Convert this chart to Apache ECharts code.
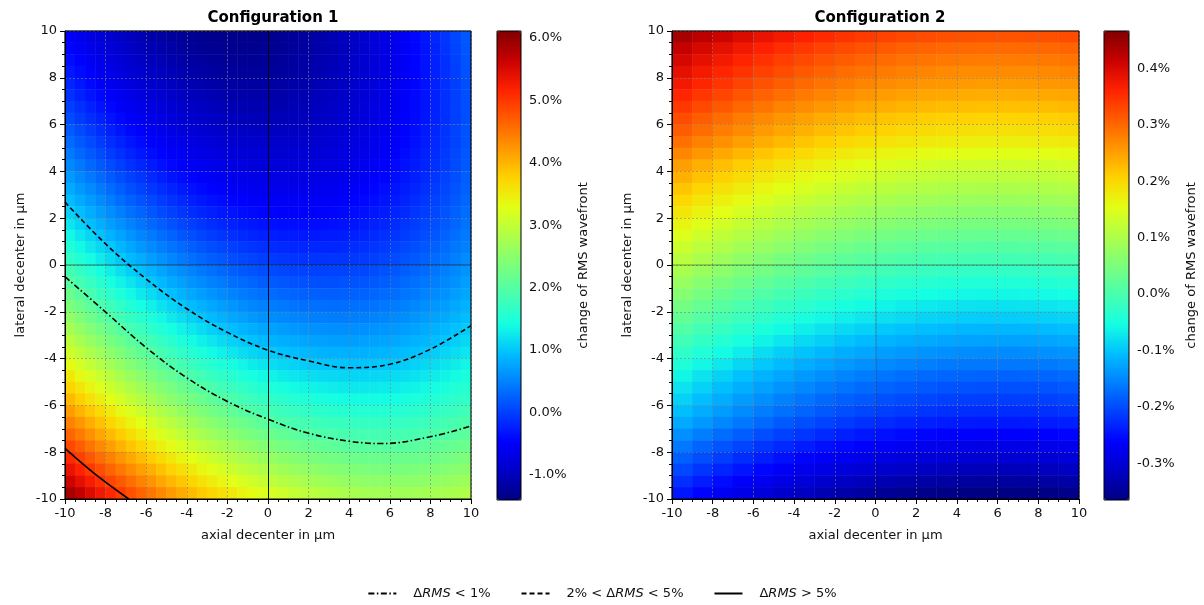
<!DOCTYPE html>
<html>
<head>
<meta charset="utf-8">
<title>RMS wavefront change</title>
<script src="https://cdn.jsdelivr.net/npm/echarts@6/dist/echarts.min.js"></script>
<style>
  html, body { margin: 0; padding: 0; background: #fff; }
  #chart { width: 1204px; height: 605px; }
</style>
</head>
<body>
<div id="chart"></div>
<script>
// cell centres in µm (axial = x, lateral = y, bottom to top)
const axialFine = [-9.75, -9.25, -8.75, -8.25, -7.75, -7.25, -6.75, -6.25, -5.75, -5.25, -4.75, -4.25, -3.75, -3.25, -2.75, -2.25, -1.75, -1.25, -0.75, -0.25,
  0.25, 0.75, 1.25, 1.75, 2.25, 2.75, 3.25, 3.75, 4.25, 4.75, 5.25, 5.75, 6.25, 6.75, 7.25, 7.75, 8.25, 8.75, 9.25, 9.75];
const axialCoarse = [-9.5, -8.5, -7.5, -6.5, -5.5, -4.5, -3.5, -2.5, -1.5, -0.5, 0.5, 1.5, 2.5, 3.5, 4.5, 5.5, 6.5, 7.5, 8.5, 9.5];
const lateralFine = [-9.75, -9.25, -8.75, -8.25, -7.75, -7.25, -6.75, -6.25, -5.75, -5.25, -4.75, -4.25, -3.75, -3.25, -2.75, -2.25, -1.75, -1.25, -0.75, -0.25,
  0.25, 0.75, 1.25, 1.75, 2.25, 2.75, 3.25, 3.75, 4.25, 4.75, 5.25, 5.75, 6.25, 6.75, 7.25, 7.75, 8.25, 8.75, 9.25, 9.75];

// change of RMS wavefront in %, configuration 1, one row per lateral position, top row (9.75) first
const config1Rows = [
  [-0.52, -0.61, -0.70, -0.79, -0.87, -0.94, -1.00, -1.06, -1.12, -1.17, -1.21, -1.24, -1.27, -1.30, -1.32, -1.33, -1.33, -1.33, -1.33, -1.32, -1.30, -1.27, -1.24, -1.21, -1.17, -1.12, -1.06, -1.00, -0.94, -0.87, -0.79, -0.70, -0.61, -0.52, -0.42, -0.31, -0.19, -0.07, 0.05, 0.18],
  [-0.45, -0.54, -0.64, -0.72, -0.80, -0.88, -0.95, -1.01, -1.07, -1.12, -1.16, -1.20, -1.23, -1.26, -1.28, -1.29, -1.30, -1.30, -1.30, -1.29, -1.28, -1.25, -1.23, -1.19, -1.15, -1.11, -1.06, -1.00, -0.94, -0.87, -0.79, -0.71, -0.62, -0.53, -0.43, -0.32, -0.21, -0.09, 0.03, 0.16],
  [-0.37, -0.47, -0.56, -0.65, -0.74, -0.81, -0.88, -0.95, -1.01, -1.06, -1.11, -1.15, -1.18, -1.21, -1.24, -1.25, -1.26, -1.27, -1.27, -1.26, -1.25, -1.23, -1.20, -1.17, -1.14, -1.09, -1.04, -0.99, -0.93, -0.86, -0.79, -0.71, -0.62, -0.53, -0.44, -0.33, -0.22, -0.11, 0.01, 0.14],
  [-0.29, -0.39, -0.49, -0.58, -0.66, -0.74, -0.82, -0.88, -0.95, -1.00, -1.05, -1.09, -1.13, -1.16, -1.19, -1.21, -1.22, -1.23, -1.23, -1.23, -1.21, -1.20, -1.18, -1.15, -1.11, -1.07, -1.02, -0.97, -0.91, -0.85, -0.78, -0.70, -0.62, -0.53, -0.44, -0.34, -0.23, -0.12, 0.00, 0.13],
  [-0.20, -0.31, -0.41, -0.50, -0.59, -0.67, -0.74, -0.81, -0.88, -0.94, -0.99, -1.03, -1.07, -1.11, -1.14, -1.16, -1.17, -1.18, -1.19, -1.19, -1.18, -1.16, -1.14, -1.12, -1.08, -1.05, -1.00, -0.95, -0.90, -0.83, -0.77, -0.69, -0.61, -0.53, -0.43, -0.34, -0.23, -0.12, -0.01, 0.12],
  [-0.11, -0.22, -0.32, -0.41, -0.50, -0.59, -0.67, -0.74, -0.81, -0.87, -0.92, -0.97, -1.01, -1.05, -1.08, -1.10, -1.12, -1.13, -1.14, -1.14, -1.13, -1.12, -1.10, -1.08, -1.05, -1.01, -0.97, -0.93, -0.87, -0.81, -0.75, -0.67, -0.60, -0.51, -0.42, -0.33, -0.23, -0.12, 0.00, 0.12],
  [-0.01, -0.12, -0.23, -0.33, -0.42, -0.51, -0.59, -0.66, -0.73, -0.79, -0.85, -0.90, -0.94, -0.98, -1.02, -1.04, -1.06, -1.08, -1.09, -1.09, -1.09, -1.08, -1.06, -1.04, -1.01, -0.98, -0.94, -0.90, -0.85, -0.79, -0.73, -0.66, -0.58, -0.50, -0.41, -0.32, -0.22, -0.11, 0.00, 0.11],
  [0.09, -0.02, -0.13, -0.23, -0.33, -0.42, -0.50, -0.58, -0.65, -0.71, -0.77, -0.83, -0.87, -0.91, -0.95, -0.98, -1.00, -1.02, -1.03, -1.04, -1.04, -1.03, -1.02, -1.00, -0.97, -0.94, -0.91, -0.86, -0.81, -0.76, -0.70, -0.63, -0.56, -0.48, -0.40, -0.31, -0.21, -0.11, 0.00, 0.12],
  [0.20, 0.08, -0.03, -0.13, -0.23, -0.32, -0.41, -0.49, -0.56, -0.63, -0.69, -0.75, -0.80, -0.84, -0.88, -0.91, -0.93, -0.95, -0.97, -0.98, -0.98, -0.97, -0.96, -0.95, -0.92, -0.90, -0.86, -0.82, -0.77, -0.72, -0.66, -0.60, -0.53, -0.45, -0.37, -0.28, -0.19, -0.09, 0.02, 0.13],
  [0.31, 0.19, 0.08, -0.03, -0.13, -0.22, -0.31, -0.39, -0.47, -0.54, -0.60, -0.66, -0.71, -0.76, -0.80, -0.84, -0.86, -0.89, -0.90, -0.91, -0.92, -0.91, -0.91, -0.89, -0.87, -0.85, -0.82, -0.78, -0.73, -0.68, -0.63, -0.57, -0.50, -0.43, -0.35, -0.26, -0.17, -0.07, 0.03, 0.14],
  [0.42, 0.30, 0.19, 0.08, -0.02, -0.12, -0.21, -0.30, -0.37, -0.45, -0.51, -0.57, -0.63, -0.68, -0.72, -0.76, -0.79, -0.81, -0.83, -0.84, -0.85, -0.85, -0.84, -0.83, -0.82, -0.79, -0.76, -0.73, -0.69, -0.64, -0.59, -0.53, -0.46, -0.39, -0.31, -0.23, -0.14, -0.04, 0.06, 0.17],
  [0.54, 0.42, 0.30, 0.19, 0.09, -0.01, -0.11, -0.19, -0.27, -0.35, -0.42, -0.48, -0.54, -0.59, -0.63, -0.67, -0.71, -0.73, -0.75, -0.77, -0.78, -0.78, -0.78, -0.77, -0.76, -0.73, -0.71, -0.67, -0.64, -0.59, -0.54, -0.48, -0.42, -0.35, -0.28, -0.20, -0.11, -0.02, 0.08, 0.19],
  [0.67, 0.54, 0.42, 0.31, 0.20, 0.10, 0.01, -0.08, -0.17, -0.25, -0.32, -0.38, -0.44, -0.50, -0.54, -0.58, -0.62, -0.65, -0.67, -0.69, -0.70, -0.71, -0.71, -0.70, -0.69, -0.67, -0.65, -0.62, -0.58, -0.54, -0.49, -0.43, -0.37, -0.31, -0.24, -0.16, -0.07, 0.02, 0.11, 0.22],
  [0.80, 0.67, 0.55, 0.43, 0.32, 0.22, 0.12, 0.03, -0.06, -0.14, -0.21, -0.28, -0.34, -0.40, -0.45, -0.49, -0.53, -0.56, -0.59, -0.61, -0.62, -0.63, -0.63, -0.63, -0.62, -0.60, -0.58, -0.55, -0.52, -0.48, -0.43, -0.38, -0.32, -0.26, -0.19, -0.11, -0.03, 0.06, 0.15, 0.25],
  [0.93, 0.80, 0.68, 0.56, 0.45, 0.34, 0.24, 0.15, 0.06, -0.03, -0.10, -0.17, -0.24, -0.30, -0.35, -0.39, -0.43, -0.47, -0.50, -0.52, -0.54, -0.55, -0.55, -0.55, -0.54, -0.53, -0.51, -0.48, -0.45, -0.42, -0.37, -0.32, -0.27, -0.21, -0.14, -0.06, 0.02, 0.10, 0.19, 0.29],
  [1.07, 0.94, 0.81, 0.69, 0.58, 0.47, 0.37, 0.27, 0.18, 0.09, 0.01, -0.06, -0.13, -0.19, -0.24, -0.29, -0.33, -0.37, -0.40, -0.43, -0.45, -0.46, -0.47, -0.47, -0.46, -0.45, -0.43, -0.41, -0.38, -0.35, -0.30, -0.26, -0.20, -0.15, -0.08, -0.01, 0.07, 0.15, 0.24, 0.34],
  [1.22, 1.08, 0.95, 0.83, 0.71, 0.60, 0.50, 0.40, 0.30, 0.22, 0.13, 0.06, -0.01, -0.07, -0.13, -0.18, -0.23, -0.27, -0.30, -0.33, -0.35, -0.37, -0.37, -0.38, -0.38, -0.37, -0.35, -0.33, -0.31, -0.27, -0.23, -0.19, -0.14, -0.08, -0.02, 0.05, 0.12, 0.20, 0.29, 0.38],
  [1.37, 1.23, 1.10, 0.97, 0.85, 0.74, 0.63, 0.53, 0.43, 0.34, 0.26, 0.18, 0.11, 0.04, -0.02, -0.07, -0.12, -0.16, -0.20, -0.23, -0.25, -0.27, -0.28, -0.29, -0.29, -0.28, -0.27, -0.25, -0.23, -0.20, -0.16, -0.12, -0.07, -0.02, 0.04, 0.11, 0.18, 0.26, 0.35, 0.44],
  [1.52, 1.38, 1.25, 1.12, 1.00, 0.88, 0.77, 0.66, 0.57, 0.47, 0.39, 0.31, 0.23, 0.16, 0.10, 0.05, 0.00, -0.05, -0.09, -0.12, -0.15, -0.17, -0.18, -0.19, -0.19, -0.19, -0.18, -0.16, -0.14, -0.11, -0.08, -0.04, 0.01, 0.06, 0.12, 0.18, 0.25, 0.33, 0.41, 0.49],
  [1.68, 1.54, 1.40, 1.27, 1.14, 1.02, 0.91, 0.81, 0.70, 0.61, 0.52, 0.44, 0.36, 0.29, 0.23, 0.17, 0.11, 0.07, 0.03, -0.01, -0.04, -0.06, -0.08, -0.09, -0.09, -0.09, -0.08, -0.07, -0.05, -0.03, 0.00, 0.04, 0.09, 0.13, 0.19, 0.25, 0.32, 0.39, 0.47, 0.56],
  [1.84, 1.70, 1.56, 1.43, 1.30, 1.18, 1.06, 0.95, 0.85, 0.75, 0.66, 0.58, 0.50, 0.42, 0.36, 0.30, 0.24, 0.19, 0.15, 0.11, 0.08, 0.05, 0.03, 0.02, 0.01, 0.01, 0.02, 0.03, 0.05, 0.07, 0.10, 0.13, 0.17, 0.22, 0.27, 0.33, 0.40, 0.47, 0.54, 0.63],
  [2.01, 1.86, 1.72, 1.59, 1.46, 1.33, 1.22, 1.10, 1.00, 0.90, 0.80, 0.72, 0.63, 0.56, 0.49, 0.43, 0.37, 0.32, 0.27, 0.23, 0.20, 0.17, 0.15, 0.13, 0.12, 0.12, 0.12, 0.13, 0.14, 0.16, 0.19, 0.22, 0.26, 0.31, 0.36, 0.41, 0.47, 0.54, 0.62, 0.70],
  [2.18, 2.03, 1.89, 1.75, 1.62, 1.49, 1.37, 1.26, 1.15, 1.05, 0.95, 0.86, 0.78, 0.70, 0.63, 0.56, 0.50, 0.45, 0.40, 0.36, 0.32, 0.29, 0.27, 0.25, 0.24, 0.23, 0.23, 0.24, 0.25, 0.26, 0.29, 0.32, 0.35, 0.40, 0.44, 0.50, 0.56, 0.62, 0.70, 0.77],
  [2.36, 2.21, 2.06, 1.92, 1.79, 1.66, 1.54, 1.42, 1.31, 1.20, 1.11, 1.01, 0.93, 0.85, 0.77, 0.70, 0.64, 0.58, 0.53, 0.49, 0.45, 0.42, 0.39, 0.37, 0.36, 0.35, 0.34, 0.35, 0.36, 0.37, 0.39, 0.42, 0.45, 0.49, 0.54, 0.59, 0.65, 0.71, 0.78, 0.86],
  [2.55, 2.39, 2.24, 2.10, 1.96, 1.83, 1.70, 1.59, 1.47, 1.37, 1.26, 1.17, 1.08, 1.00, 0.92, 0.85, 0.78, 0.72, 0.67, 0.62, 0.58, 0.55, 0.52, 0.50, 0.48, 0.47, 0.46, 0.46, 0.47, 0.48, 0.50, 0.53, 0.56, 0.59, 0.64, 0.69, 0.74, 0.80, 0.87, 0.94],
  [2.73, 2.58, 2.42, 2.28, 2.14, 2.01, 1.88, 1.76, 1.64, 1.53, 1.43, 1.33, 1.24, 1.15, 1.07, 1.00, 0.93, 0.87, 0.82, 0.77, 0.72, 0.69, 0.65, 0.63, 0.61, 0.60, 0.59, 0.59, 0.59, 0.60, 0.62, 0.64, 0.67, 0.70, 0.74, 0.79, 0.84, 0.90, 0.97, 1.04],
  [2.92, 2.76, 2.61, 2.46, 2.32, 2.18, 2.05, 1.93, 1.81, 1.70, 1.59, 1.49, 1.40, 1.31, 1.23, 1.15, 1.08, 1.02, 0.96, 0.91, 0.86, 0.82, 0.79, 0.76, 0.74, 0.72, 0.71, 0.71, 0.71, 0.72, 0.73, 0.75, 0.78, 0.81, 0.85, 0.89, 0.94, 1.00, 1.06, 1.13],
  [3.12, 2.96, 2.80, 2.65, 2.51, 2.37, 2.24, 2.11, 1.99, 1.87, 1.77, 1.66, 1.57, 1.48, 1.39, 1.31, 1.24, 1.17, 1.11, 1.06, 1.01, 0.97, 0.93, 0.90, 0.88, 0.86, 0.85, 0.84, 0.84, 0.84, 0.86, 0.87, 0.90, 0.93, 0.96, 1.00, 1.05, 1.10, 1.16, 1.23],
  [3.32, 3.16, 3.00, 2.85, 2.70, 2.56, 2.42, 2.30, 2.17, 2.06, 1.94, 1.84, 1.74, 1.65, 1.56, 1.48, 1.41, 1.34, 1.27, 1.22, 1.17, 1.12, 1.08, 1.05, 1.02, 1.00, 0.99, 0.98, 0.97, 0.98, 0.99, 1.00, 1.02, 1.05, 1.08, 1.12, 1.17, 1.22, 1.28, 1.34],
  [3.53, 3.36, 3.20, 3.05, 2.90, 2.75, 2.62, 2.48, 2.36, 2.24, 2.13, 2.02, 1.92, 1.82, 1.73, 1.65, 1.57, 1.50, 1.43, 1.38, 1.32, 1.27, 1.23, 1.20, 1.17, 1.14, 1.13, 1.12, 1.11, 1.11, 1.12, 1.13, 1.15, 1.17, 1.20, 1.24, 1.28, 1.33, 1.39, 1.45],
  [3.74, 3.57, 3.41, 3.25, 3.10, 2.95, 2.81, 2.68, 2.55, 2.43, 2.31, 2.20, 2.10, 2.00, 1.91, 1.82, 1.74, 1.67, 1.60, 1.54, 1.49, 1.44, 1.39, 1.35, 1.32, 1.30, 1.28, 1.26, 1.25, 1.25, 1.26, 1.27, 1.28, 1.31, 1.33, 1.37, 1.41, 1.45, 1.51, 1.57],
  [3.96, 3.79, 3.62, 3.46, 3.30, 3.16, 3.01, 2.88, 2.75, 2.62, 2.50, 2.39, 2.29, 2.19, 2.09, 2.00, 1.92, 1.84, 1.77, 1.71, 1.65, 1.60, 1.55, 1.51, 1.48, 1.45, 1.43, 1.41, 1.40, 1.40, 1.40, 1.41, 1.42, 1.44, 1.47, 1.50, 1.53, 1.58, 1.63, 1.68],
  [4.18, 4.00, 3.84, 3.67, 3.52, 3.36, 3.22, 3.08, 2.95, 2.82, 2.70, 2.59, 2.48, 2.37, 2.28, 2.19, 2.10, 2.02, 1.95, 1.88, 1.82, 1.77, 1.72, 1.68, 1.64, 1.61, 1.58, 1.57, 1.55, 1.55, 1.54, 1.55, 1.56, 1.58, 1.60, 1.63, 1.67, 1.71, 1.75, 1.81],
  [4.40, 4.23, 4.06, 3.89, 3.73, 3.58, 3.43, 3.29, 3.15, 3.03, 2.90, 2.79, 2.67, 2.57, 2.47, 2.38, 2.29, 2.21, 2.13, 2.06, 2.00, 1.94, 1.89, 1.85, 1.81, 1.77, 1.75, 1.73, 1.71, 1.70, 1.70, 1.70, 1.71, 1.72, 1.75, 1.77, 1.81, 1.84, 1.89, 1.94],
  [4.63, 4.46, 4.28, 4.11, 3.95, 3.80, 3.65, 3.50, 3.37, 3.23, 3.11, 2.99, 2.87, 2.77, 2.66, 2.57, 2.48, 2.40, 2.32, 2.25, 2.18, 2.12, 2.07, 2.02, 1.98, 1.94, 1.91, 1.89, 1.87, 1.86, 1.85, 1.85, 1.86, 1.87, 1.89, 1.92, 1.95, 1.98, 2.02, 2.07],
  [4.87, 4.69, 4.51, 4.34, 4.18, 4.02, 3.87, 3.72, 3.58, 3.45, 3.32, 3.20, 3.08, 2.97, 2.87, 2.77, 2.68, 2.59, 2.51, 2.44, 2.37, 2.31, 2.25, 2.20, 2.15, 2.12, 2.08, 2.06, 2.04, 2.02, 2.02, 2.01, 2.02, 2.03, 2.04, 2.07, 2.09, 2.13, 2.17, 2.21],
  [5.11, 4.93, 4.75, 4.57, 4.41, 4.25, 4.09, 3.94, 3.80, 3.67, 3.53, 3.41, 3.29, 3.18, 3.07, 2.97, 2.88, 2.79, 2.71, 2.63, 2.56, 2.49, 2.44, 2.38, 2.34, 2.30, 2.26, 2.23, 2.21, 2.19, 2.18, 2.18, 2.18, 2.19, 2.20, 2.22, 2.24, 2.28, 2.31, 2.36],
  [5.36, 5.17, 4.99, 4.81, 4.64, 4.48, 4.32, 4.17, 4.03, 3.89, 3.75, 3.63, 3.51, 3.39, 3.28, 3.18, 3.08, 2.99, 2.91, 2.83, 2.75, 2.69, 2.62, 2.57, 2.52, 2.48, 2.44, 2.41, 2.38, 2.37, 2.35, 2.34, 2.34, 2.35, 2.36, 2.38, 2.40, 2.43, 2.46, 2.50],
  [5.60, 5.41, 5.23, 5.05, 4.88, 4.72, 4.56, 4.40, 4.26, 4.11, 3.98, 3.85, 3.73, 3.61, 3.50, 3.39, 3.29, 3.20, 3.11, 3.03, 2.95, 2.88, 2.82, 2.76, 2.71, 2.67, 2.63, 2.59, 2.57, 2.54, 2.53, 2.52, 2.52, 2.52, 2.53, 2.54, 2.56, 2.59, 2.62, 2.66],
  [5.86, 5.67, 5.48, 5.30, 5.13, 4.96, 4.80, 4.64, 4.49, 4.35, 4.21, 4.08, 3.95, 3.83, 3.72, 3.61, 3.51, 3.41, 3.32, 3.24, 3.16, 3.09, 3.02, 2.96, 2.91, 2.86, 2.82, 2.78, 2.75, 2.73, 2.71, 2.70, 2.69, 2.69, 2.70, 2.71, 2.73, 2.75, 2.78, 2.82]
];

// configuration 2: rows on lateralFine (top first), columns on axialCoarse
const config2Rows = [
  [0.438, 0.423, 0.409, 0.396, 0.384, 0.373, 0.363, 0.354, 0.346, 0.339, 0.333, 0.328, 0.324, 0.321, 0.319, 0.318, 0.318, 0.319, 0.321, 0.324],
  [0.417, 0.402, 0.388, 0.375, 0.363, 0.352, 0.342, 0.333, 0.325, 0.318, 0.312, 0.307, 0.303, 0.300, 0.298, 0.297, 0.297, 0.298, 0.300, 0.303],
  [0.402, 0.387, 0.373, 0.360, 0.348, 0.337, 0.327, 0.318, 0.310, 0.303, 0.297, 0.292, 0.288, 0.285, 0.283, 0.282, 0.282, 0.283, 0.285, 0.288],
  [0.388, 0.373, 0.359, 0.346, 0.334, 0.323, 0.313, 0.304, 0.296, 0.289, 0.283, 0.278, 0.274, 0.271, 0.269, 0.268, 0.268, 0.269, 0.271, 0.274],
  [0.374, 0.359, 0.345, 0.332, 0.320, 0.309, 0.299, 0.290, 0.282, 0.275, 0.269, 0.264, 0.260, 0.257, 0.255, 0.254, 0.254, 0.255, 0.257, 0.260],
  [0.359, 0.344, 0.330, 0.317, 0.305, 0.294, 0.284, 0.275, 0.267, 0.260, 0.254, 0.249, 0.245, 0.242, 0.240, 0.239, 0.239, 0.240, 0.242, 0.245],
  [0.342, 0.327, 0.313, 0.300, 0.288, 0.277, 0.267, 0.258, 0.250, 0.243, 0.237, 0.232, 0.228, 0.225, 0.223, 0.222, 0.222, 0.223, 0.225, 0.228],
  [0.324, 0.309, 0.295, 0.282, 0.270, 0.259, 0.249, 0.240, 0.232, 0.225, 0.219, 0.214, 0.210, 0.207, 0.205, 0.204, 0.204, 0.205, 0.207, 0.210],
  [0.310, 0.295, 0.281, 0.268, 0.256, 0.245, 0.235, 0.226, 0.218, 0.211, 0.205, 0.200, 0.196, 0.193, 0.191, 0.190, 0.190, 0.191, 0.193, 0.196],
  [0.293, 0.278, 0.264, 0.251, 0.239, 0.228, 0.218, 0.209, 0.201, 0.194, 0.188, 0.183, 0.179, 0.176, 0.174, 0.173, 0.173, 0.174, 0.176, 0.179],
  [0.272, 0.257, 0.243, 0.230, 0.218, 0.207, 0.197, 0.188, 0.180, 0.173, 0.167, 0.162, 0.158, 0.155, 0.153, 0.152, 0.152, 0.153, 0.155, 0.158],
  [0.252, 0.237, 0.223, 0.210, 0.198, 0.187, 0.177, 0.168, 0.160, 0.153, 0.147, 0.142, 0.138, 0.135, 0.133, 0.132, 0.132, 0.133, 0.135, 0.138],
  [0.236, 0.221, 0.207, 0.194, 0.182, 0.171, 0.161, 0.152, 0.144, 0.137, 0.131, 0.126, 0.122, 0.119, 0.117, 0.116, 0.116, 0.117, 0.119, 0.122],
  [0.218, 0.203, 0.189, 0.176, 0.164, 0.153, 0.143, 0.134, 0.126, 0.119, 0.113, 0.108, 0.104, 0.101, 0.099, 0.098, 0.098, 0.099, 0.101, 0.104],
  [0.201, 0.186, 0.172, 0.159, 0.147, 0.136, 0.126, 0.117, 0.109, 0.102, 0.096, 0.091, 0.087, 0.084, 0.082, 0.081, 0.081, 0.082, 0.084, 0.087],
  [0.183, 0.168, 0.154, 0.141, 0.129, 0.118, 0.108, 0.099, 0.091, 0.084, 0.078, 0.073, 0.069, 0.066, 0.064, 0.063, 0.063, 0.064, 0.066, 0.069],
  [0.166, 0.151, 0.137, 0.124, 0.112, 0.101, 0.091, 0.082, 0.074, 0.067, 0.061, 0.056, 0.052, 0.049, 0.047, 0.046, 0.046, 0.047, 0.049, 0.052],
  [0.148, 0.133, 0.119, 0.106, 0.094, 0.083, 0.073, 0.064, 0.056, 0.049, 0.043, 0.038, 0.034, 0.031, 0.029, 0.028, 0.028, 0.029, 0.031, 0.034],
  [0.131, 0.116, 0.102, 0.089, 0.077, 0.066, 0.056, 0.047, 0.039, 0.032, 0.026, 0.021, 0.017, 0.014, 0.012, 0.011, 0.011, 0.012, 0.014, 0.017],
  [0.113, 0.098, 0.084, 0.071, 0.059, 0.048, 0.038, 0.029, 0.021, 0.014, 0.008, 0.003, -0.001, -0.004, -0.006, -0.007, -0.007, -0.006, -0.004, -0.001],
  [0.096, 0.081, 0.067, 0.054, 0.042, 0.031, 0.021, 0.012, 0.004, -0.003, -0.009, -0.014, -0.018, -0.021, -0.023, -0.024, -0.024, -0.023, -0.021, -0.018],
  [0.078, 0.063, 0.049, 0.036, 0.024, 0.013, 0.003, -0.006, -0.014, -0.021, -0.027, -0.032, -0.036, -0.039, -0.041, -0.042, -0.042, -0.041, -0.039, -0.036],
  [0.061, 0.046, 0.032, 0.019, 0.007, -0.004, -0.014, -0.023, -0.031, -0.038, -0.044, -0.049, -0.053, -0.056, -0.058, -0.059, -0.059, -0.058, -0.056, -0.053],
  [0.043, 0.028, 0.014, 0.001, -0.011, -0.022, -0.032, -0.041, -0.049, -0.056, -0.062, -0.067, -0.071, -0.074, -0.076, -0.077, -0.077, -0.076, -0.074, -0.071],
  [0.026, 0.011, -0.003, -0.016, -0.028, -0.039, -0.049, -0.058, -0.066, -0.073, -0.079, -0.084, -0.088, -0.091, -0.093, -0.094, -0.094, -0.093, -0.091, -0.088],
  [0.008, -0.007, -0.021, -0.034, -0.046, -0.057, -0.067, -0.076, -0.084, -0.091, -0.097, -0.102, -0.106, -0.109, -0.111, -0.112, -0.112, -0.111, -0.109, -0.106],
  [-0.009, -0.024, -0.038, -0.051, -0.063, -0.074, -0.084, -0.093, -0.101, -0.108, -0.114, -0.119, -0.123, -0.126, -0.128, -0.129, -0.129, -0.128, -0.126, -0.123],
  [-0.027, -0.042, -0.056, -0.069, -0.081, -0.092, -0.102, -0.111, -0.119, -0.126, -0.132, -0.137, -0.141, -0.144, -0.146, -0.147, -0.147, -0.146, -0.144, -0.141],
  [-0.044, -0.059, -0.073, -0.086, -0.098, -0.109, -0.119, -0.128, -0.136, -0.143, -0.149, -0.154, -0.158, -0.161, -0.163, -0.164, -0.164, -0.163, -0.161, -0.158],
  [-0.061, -0.076, -0.090, -0.103, -0.115, -0.126, -0.136, -0.145, -0.153, -0.160, -0.166, -0.171, -0.175, -0.178, -0.180, -0.181, -0.181, -0.180, -0.178, -0.175],
  [-0.076, -0.091, -0.105, -0.118, -0.130, -0.141, -0.151, -0.160, -0.168, -0.175, -0.181, -0.186, -0.190, -0.193, -0.195, -0.196, -0.196, -0.195, -0.193, -0.190],
  [-0.091, -0.106, -0.120, -0.133, -0.145, -0.156, -0.166, -0.175, -0.183, -0.190, -0.196, -0.201, -0.205, -0.208, -0.210, -0.211, -0.211, -0.210, -0.208, -0.205],
  [-0.105, -0.120, -0.134, -0.147, -0.159, -0.170, -0.180, -0.189, -0.197, -0.204, -0.210, -0.215, -0.219, -0.222, -0.224, -0.225, -0.225, -0.224, -0.222, -0.219],
  [-0.122, -0.137, -0.151, -0.164, -0.176, -0.187, -0.197, -0.206, -0.214, -0.221, -0.227, -0.232, -0.236, -0.239, -0.241, -0.242, -0.242, -0.241, -0.239, -0.236],
  [-0.144, -0.159, -0.173, -0.186, -0.198, -0.209, -0.219, -0.228, -0.236, -0.243, -0.249, -0.254, -0.258, -0.261, -0.263, -0.264, -0.264, -0.263, -0.261, -0.258],
  [-0.164, -0.179, -0.193, -0.206, -0.218, -0.229, -0.239, -0.248, -0.256, -0.263, -0.269, -0.274, -0.278, -0.281, -0.283, -0.284, -0.284, -0.283, -0.281, -0.278],
  [-0.183, -0.198, -0.212, -0.225, -0.237, -0.248, -0.258, -0.267, -0.275, -0.282, -0.288, -0.293, -0.297, -0.300, -0.302, -0.303, -0.303, -0.302, -0.300, -0.297],
  [-0.203, -0.218, -0.232, -0.245, -0.257, -0.268, -0.278, -0.287, -0.295, -0.302, -0.308, -0.313, -0.317, -0.320, -0.322, -0.323, -0.323, -0.322, -0.320, -0.317],
  [-0.223, -0.238, -0.252, -0.265, -0.277, -0.288, -0.298, -0.307, -0.315, -0.322, -0.328, -0.333, -0.337, -0.340, -0.342, -0.343, -0.343, -0.342, -0.340, -0.337],
  [-0.243, -0.258, -0.272, -0.285, -0.297, -0.308, -0.318, -0.327, -0.335, -0.342, -0.348, -0.353, -0.357, -0.360, -0.362, -0.363, -0.363, -0.362, -0.360, -0.357]
];

// contour lines of configuration 1, [axial, lateral]
const contourDashDot = [[-10, -0.50], [-8, -2.01], [-6, -3.53], [-4, -4.82], [-2, -5.83], [0, -6.59], [2, -7.19], [4, -7.53], [5.6, -7.63], [8, -7.34], [10, -6.88]];
const contourDashed = [[-10, 2.69], [-8, 0.90], [-6, -0.60], [-4, -1.87], [-2, -2.88], [0, -3.64], [2, -4.10], [4, -4.39], [6, -4.24], [8, -3.60], [10, -2.59]];
const contourSolid = [[-10, -7.84], [-8.5, -8.95], [-6.86, -10]];

const legendNames = ['ΔRMS < 1%', '2% < ΔRMS < 5%', 'ΔRMS > 5%'];

// colour bar limits (%)
const cbar1Range = [-1.40, 6.11];
const cbar2Range = [-0.365, 0.466];

const jetColors = ['#000080', '#0000c8', '#0000ff', '#0040ff', '#0080ff', '#00bfff', '#15ffe2', '#48ffaf',
  '#7bff7b', '#afff48', '#e2ff15', '#ffd200', '#ff9700', '#ff5c00', '#ff2100', '#c80000', '#800000'];

const font = "'DejaVu Sans', sans-serif";
const ink = '#111';

function toCells(rows) {
  const out = [];
  rows.forEach((row, r) => {
    row.forEach((v, c) => out.push([c, rows.length - 1 - r, v]));
  });
  return out;
}

function valueAxis(g, pos, name, gap) {
  return {
    gridIndex: g,
    type: 'value',
    position: pos,
    min: -10,
    max: 10,
    interval: 2,
    z: 4,
    name: name,
    nameLocation: 'middle',
    nameGap: gap,
    nameTextStyle: { fontSize: 13, color: ink, fontFamily: font },
    axisLine: { show: true, onZero: false, lineStyle: { color: '#000', width: 1 } },
    axisTick: { show: true, length: 5, lineStyle: { color: '#000' } },
    minorTick: { show: true, splitNumber: 4, length: 3, lineStyle: { color: '#000' } },
    axisLabel: { fontSize: 13, color: ink, fontFamily: font, margin: 8 },
    splitLine: { show: true, lineStyle: { color: '#808080', type: [2, 2], width: 0.8, opacity: 0.75 } },
  };
}

function cbarAxis(g, range, split) {
  return {
    gridIndex: g,
    type: 'value',
    position: 'right',
    min: range[0],
    max: range[1],
    splitNumber: split,
    name: 'change of RMS wavefront',
    nameLocation: 'middle',
    nameRotate: 90,
    nameGap: 56,
    nameTextStyle: { fontSize: 13, color: ink, fontFamily: font },
    axisLine: { show: false },
    axisTick: { show: true, length: 4, lineStyle: { color: '#000' } },
    axisLabel: {
      fontSize: 13, color: ink, fontFamily: font, margin: 8,
      showMinLabel: false, showMaxLabel: false,
      formatter: (v) => v.toFixed(1) + '%',
    },
    splitLine: { show: false },
  };
}

function frame(left, top, width, height) {
  return { left, top, width, height, show: true, z: 5, backgroundColor: 'transparent', borderColor: '#000', borderWidth: 1 };
}

function zeroLines(g, vOpacity, vWidth, hOpacity) {
  return {
    type: 'line',
    xAxisIndex: g * 2 + 1,
    yAxisIndex: g * 2 + 1,
    data: [],
    silent: true,
    z: 5,
    markLine: {
      symbol: 'none',
      silent: true,
      label: { show: false },
      data: [
        { xAxis: 0, lineStyle: { color: '#000', width: vWidth, type: 'solid', opacity: vOpacity } },
        { yAxis: 0, lineStyle: { color: '#000', width: 2, type: 'solid', opacity: hOpacity } },
      ],
    },
  };
}

function contour(name, data, dash) {
  return {
    name: name,
    type: 'line',
    xAxisIndex: 1,
    yAxisIndex: 1,
    data: data,
    smooth: 0.4,
    symbol: 'none',
    showSymbol: false,
    silent: true,
    z: 6,
    color: '#000',
    lineStyle: { color: '#000', width: 1.6, type: dash },
  };
}

const chart = echarts.init(document.getElementById('chart'));
chart.setOption({
  animation: false,
  backgroundColor: '#fff',
  title: [
    { text: 'Configuration 1', left: 268, top: 6, textAlign: 'center', textStyle: { fontSize: 15, fontWeight: 'bold', color: '#000', fontFamily: font } },
    { text: 'Configuration 2', left: 875, top: 6, textAlign: 'center', textStyle: { fontSize: 15, fontWeight: 'bold', color: '#000', fontFamily: font } },
  ],
  grid: [
    frame(65, 31, 406, 468),
    frame(672, 31, 407, 468),
    frame(497, 31, 24, 469),
    frame(1104, 31, 25, 469),
  ],
  xAxis: [
    { gridIndex: 0, type: 'category', data: axialFine, show: false },
    valueAxis(0, 'bottom', 'axial decenter in µm', 30),
    { gridIndex: 1, type: 'category', data: axialCoarse, show: false },
    valueAxis(1, 'bottom', 'axial decenter in µm', 30),
    { gridIndex: 2, type: 'value', show: false },
    { gridIndex: 3, type: 'value', show: false },
  ],
  yAxis: [
    { gridIndex: 0, type: 'category', data: lateralFine, show: false },
    valueAxis(0, 'left', 'lateral decenter in µm', 38),
    { gridIndex: 1, type: 'category', data: lateralFine, show: false },
    valueAxis(1, 'left', 'lateral decenter in µm', 38),
    cbarAxis(2, cbar1Range, 7),
    cbarAxis(3, cbar2Range, 8),
  ],
  visualMap: [
    {
      type: 'continuous', seriesIndex: 0, min: cbar1Range[0], max: cbar1Range[1],
      inRange: { color: jetColors }, calculable: false,
      left: 497, top: 31, itemWidth: 24, itemHeight: 469, padding: 0,
    },
    {
      type: 'continuous', seriesIndex: 1, min: cbar2Range[0], max: cbar2Range[1],
      inRange: { color: jetColors }, calculable: false,
      left: 1104, top: 31, itemWidth: 25, itemHeight: 469, padding: 0,
    },
  ],
  legend: {
    data: legendNames,
    left: 'center',
    bottom: 0,
    itemWidth: 28,
    itemHeight: 12,
    itemGap: 30,
    itemStyle: { opacity: 0 },
    textStyle: {
      fontSize: 13, color: ink, fontFamily: font, padding: [0, 0, 0, 12],
      rich: { i: { fontStyle: 'italic', fontSize: 13, color: ink, fontFamily: font } },
    },
    formatter: (n) => n.replace('RMS', '{i|RMS}'),
  },
  series: [
    { type: 'heatmap', xAxisIndex: 0, yAxisIndex: 0, data: toCells(config1Rows), progressive: 0, silent: true, emphasis: { disabled: true } },
    { type: 'heatmap', xAxisIndex: 2, yAxisIndex: 2, data: toCells(config2Rows), progressive: 0, silent: true, emphasis: { disabled: true } },
    zeroLines(0, 0.9, 1, 0.25),
    zeroLines(1, 0.15, 1.5, 0.2),
    contour(legendNames[0], contourDashDot, [6, 2.5, 1.5, 2.5]),
    contour(legendNames[1], contourDashed, [5, 3]),
    contour(legendNames[2], contourSolid, 'solid'),
  ],
});
</script>
</body>
</html>
